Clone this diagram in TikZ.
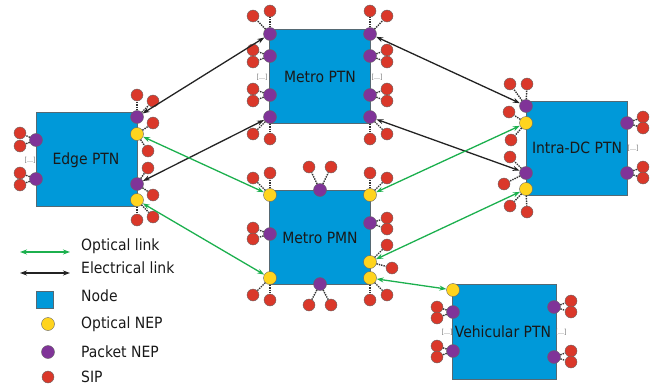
\documentclass[tikz,border=0pt]{standalone}
\usepackage{fontspec}
\setmainfont{DejaVu Sans Condensed}
\usepackage{tikz}
\usepackage{xcolor}
\usetikzlibrary{positioning,arrows.meta,calc}

\definecolor{nodeblue}{RGB}{0,153,217}
\definecolor{nodeedge}{RGB}{85,105,115}
\definecolor{optyellow}{RGB}{255,212,30}
\definecolor{pktpurple}{RGB}{128,52,152}
\definecolor{sipred}{RGB}{218,56,42}
\definecolor{optgreen}{RGB}{28,176,78}
\definecolor{elecblack}{RGB}{35,35,35}

\begin{document}
\begin{tikzpicture}[x=1pt,y=-1pt,
          every node/.style={font=\fontsize{15.5}{17}\selectfont, text=black!90},
          ptn/.style={draw=nodeedge, fill=nodeblue, line width=0.8pt, minimum width=101pt, minimum height=94pt, inner sep=0pt},
          onep/.style={draw=black!60, fill=optyellow, circle, minimum size=13pt, inner sep=0pt, line width=0.4pt},
          pnep/.style={draw=black!60, fill=pktpurple, circle, minimum size=13pt, inner sep=0pt, line width=0.4pt},
          sip/.style={draw=black!60, fill=sipred, circle, minimum size=12pt, inner sep=0pt, line width=0.4pt},
          sipline/.style={densely dotted, line width=1.4pt, black!80},
          dots/.style={font=\fontsize{7}{8}\selectfont, text=black!55, inner sep=0pt},
          optlink/.style={optgreen, line width=1.3pt, {Stealth[length=7pt,width=5pt]}-{Stealth[length=7pt,width=5pt]}},
          eleclink/.style={elecblack, line width=1.3pt, {Stealth[length=7pt,width=5pt]}-{Stealth[length=7pt,width=5pt]}}
      ]
        \useasboundingbox (0,0) rectangle (656,388);

        % network nodes
        \node[ptn] (edge) at (86.5,159) {};
        \node[ptn] (metro) at (320,76) {};
        \node[ptn] (intra) at (576.5,148) {};
        \node[ptn] (pmn) at (320,237) {};
        \node[ptn, minimum width=104pt, minimum height=95pt] (veh) at (504,331.5) {};

        \node (edgelbl) at (86,160) {Edge PTN};
        \node (metrolbl) at (320,77) {Metro PTN};
        \node (intralbl) at (577,148) {Intra-DC PTN};
        \node (pmnlbl) at (320,238) {Metro PMN};
        \node (vehlbl) at (503,332) {Vehicular PTN};

        \node[dots] (edgedots) at (30,160) {[...]};
        \node[dots] (metrodotsl) at (262,77) {[...]};
        \node[dots] (metrodotsr) at (377,77) {[...]};
        \node[dots] (intradots) at (633,148) {[...]};
        \node[dots] (vehdotsl) at (447,332) {[...]};
        \node[dots] (vehdotsr) at (561,332) {[...]};

        % edge ports
        \node[pnep] (eP1) at (137,117) {};
        \node[onep] (eO1) at (137,134) {};
        \node[pnep] (eP2) at (137,184) {};
        \node[onep] (eO2) at (137,200) {};
        \node[pnep] (eL1) at (36,140) {};
        \node[pnep] (eL2) at (36,179) {};

        % metro ptn ports
        \node[pnep] (mL1) at (270,34) {};
        \node[pnep] (mL2) at (270,56) {};
        \node[pnep] (mL3) at (270,95) {};
        \node[pnep] (mL4) at (270,117) {};
        \node[pnep] (mR1) at (370,34) {};
        \node[pnep] (mR2) at (370,56) {};
        \node[pnep] (mR3) at (370,95) {};
        \node[pnep] (mR4) at (370,117) {};

        % intra-dc ports
        \node[pnep] (iL1) at (526,106) {};
        \node[onep] (iO1) at (526,123) {};
        \node[pnep] (iL2) at (526,173) {};
        \node[onep] (iO2) at (526,189) {};
        \node[pnep] (iR1) at (627,123) {};
        \node[pnep] (iR2) at (627,173) {};

        % metro pmn ports
        \node[onep] (pO1) at (270,195) {};
        \node[pnep] (pP1) at (320,190) {};
        \node[onep] (pO2) at (370,195) {};
        \node[pnep] (pP2) at (370,223) {};
        \node[onep] (pO3) at (370,262) {};
        \node[onep] (pO4) at (370,278) {};
        \node[onep] (pO5) at (270,278) {};
        \node[pnep] (pP3) at (320,284) {};
        \node[pnep] (pP4) at (270,234) {};

        % vehicular ports
        \node[onep] (vO1) at (453,290) {};
        \node[pnep] (vL1) at (453,312) {};
        \node[pnep] (vL2) at (453,351) {};
        \node[pnep] (vR1) at (554,307) {};
        \node[pnep] (vR2) at (554,357) {};

        % service interface points
        \foreach \p/\sx/\sy [count=\k] in {
            eP1/137/95, eP1/153/101, eO1/153/123, eO1/148/151,
            eP2/148/168, eP2/153/195, eO2/137/220, eO2/153/217,
            eL1/20/133, eL1/20/146, eL2/20/173, eL2/20/185,
            mL1/270/11, mL1/253/16, mL2/253/50, mL2/253/62,
            mL3/253/89, mL3/253/101, mL4/253/134, mL4/270/139,
            mR1/370/11, mR1/387/16, mR2/387/50, mR2/387/62,
            mR3/387/89, mR3/387/101, mR4/387/134, mR4/370/139,
            iL1/510/84, iL1/527/84, iO1/509/112, iO1/511/140,
            iL2/510/157, iL2/504/184, iO2/510/206, iO2/527/212,
            iR1/643/117, iR1/643/128, iR2/643/167, iR2/643/178,
            pO1/253/178, pO1/270/173, pP1/309/167, pP1/331/167,
            pO2/370/173, pO2/387/178, pP2/387/218, pP2/387/229,
            pO3/387/245, pO3/392/268, pO4/370/300, pO4/387/295,
            pO5/253/295, pO5/270/300, pP3/309/305, pP3/331/305,
            pP4/253/228, pP4/253/239,
            vL1/437/307, vL1/437/318, vL2/437/346, vL2/437/357,
            vR1/571/301, vR1/571/312, vR2/571/351, vR2/571/362} {
          \node[sip] (s\k) at (\sx,\sy) {};
          \draw[sipline] (\p) -- (s\k);
        }

        % electrical links
        \draw[eleclink] (eP1) -- (mL1);
        \draw[eleclink] (eP2) -- (mL4);
        \draw[eleclink] (mR1) -- (iL1);
        \draw[eleclink] (mR4) -- (iL2);

        % optical links
        \draw[optlink] (eO1) -- (pO1);
        \draw[optlink] (eO2) -- (pO5);
        \draw[optlink] (pO2) -- (iO1);
        \draw[optlink] (pO3) -- (iO2);
        \draw[optlink] (pO4) -- (vO1);

        % legend
        \coordinate (optA) at (20,252);
        \coordinate (optB) at (70,252);
        \coordinate (elecA) at (20,273);
        \coordinate (elecB) at (70,273);
        \draw[optlink, line width=1.1pt] (optA) -- (optB);
        \draw[eleclink, line width=1.1pt] (elecA) -- (elecB);
        \node[ptn, minimum width=17pt, minimum height=17pt] (keynode) at (45,300) {};
        \node[onep] (keyopt) at (48,324) {};
        \node[pnep] (keypkt) at (48,352) {};
        \node[sip] (keysip) at (48,377) {};
        \node[anchor=west, inner sep=1pt] (optlbl) at (80,246) {Optical link};
        \node[anchor=west, inner sep=1pt] (eleclbl) at (80,268) {Electrical link};
        \node[anchor=west, inner sep=1pt] (nodelbl) at (80,296) {Node};
        \node[anchor=west, inner sep=1pt] (onelbl) at (80,324) {Optical NEP};
        \node[anchor=west, inner sep=1pt] (pnelbl) at (80,352) {Packet NEP};
        \node[anchor=west, inner sep=1pt] (siplbl) at (80,377) {SIP};
      \end{tikzpicture}
\end{document}
